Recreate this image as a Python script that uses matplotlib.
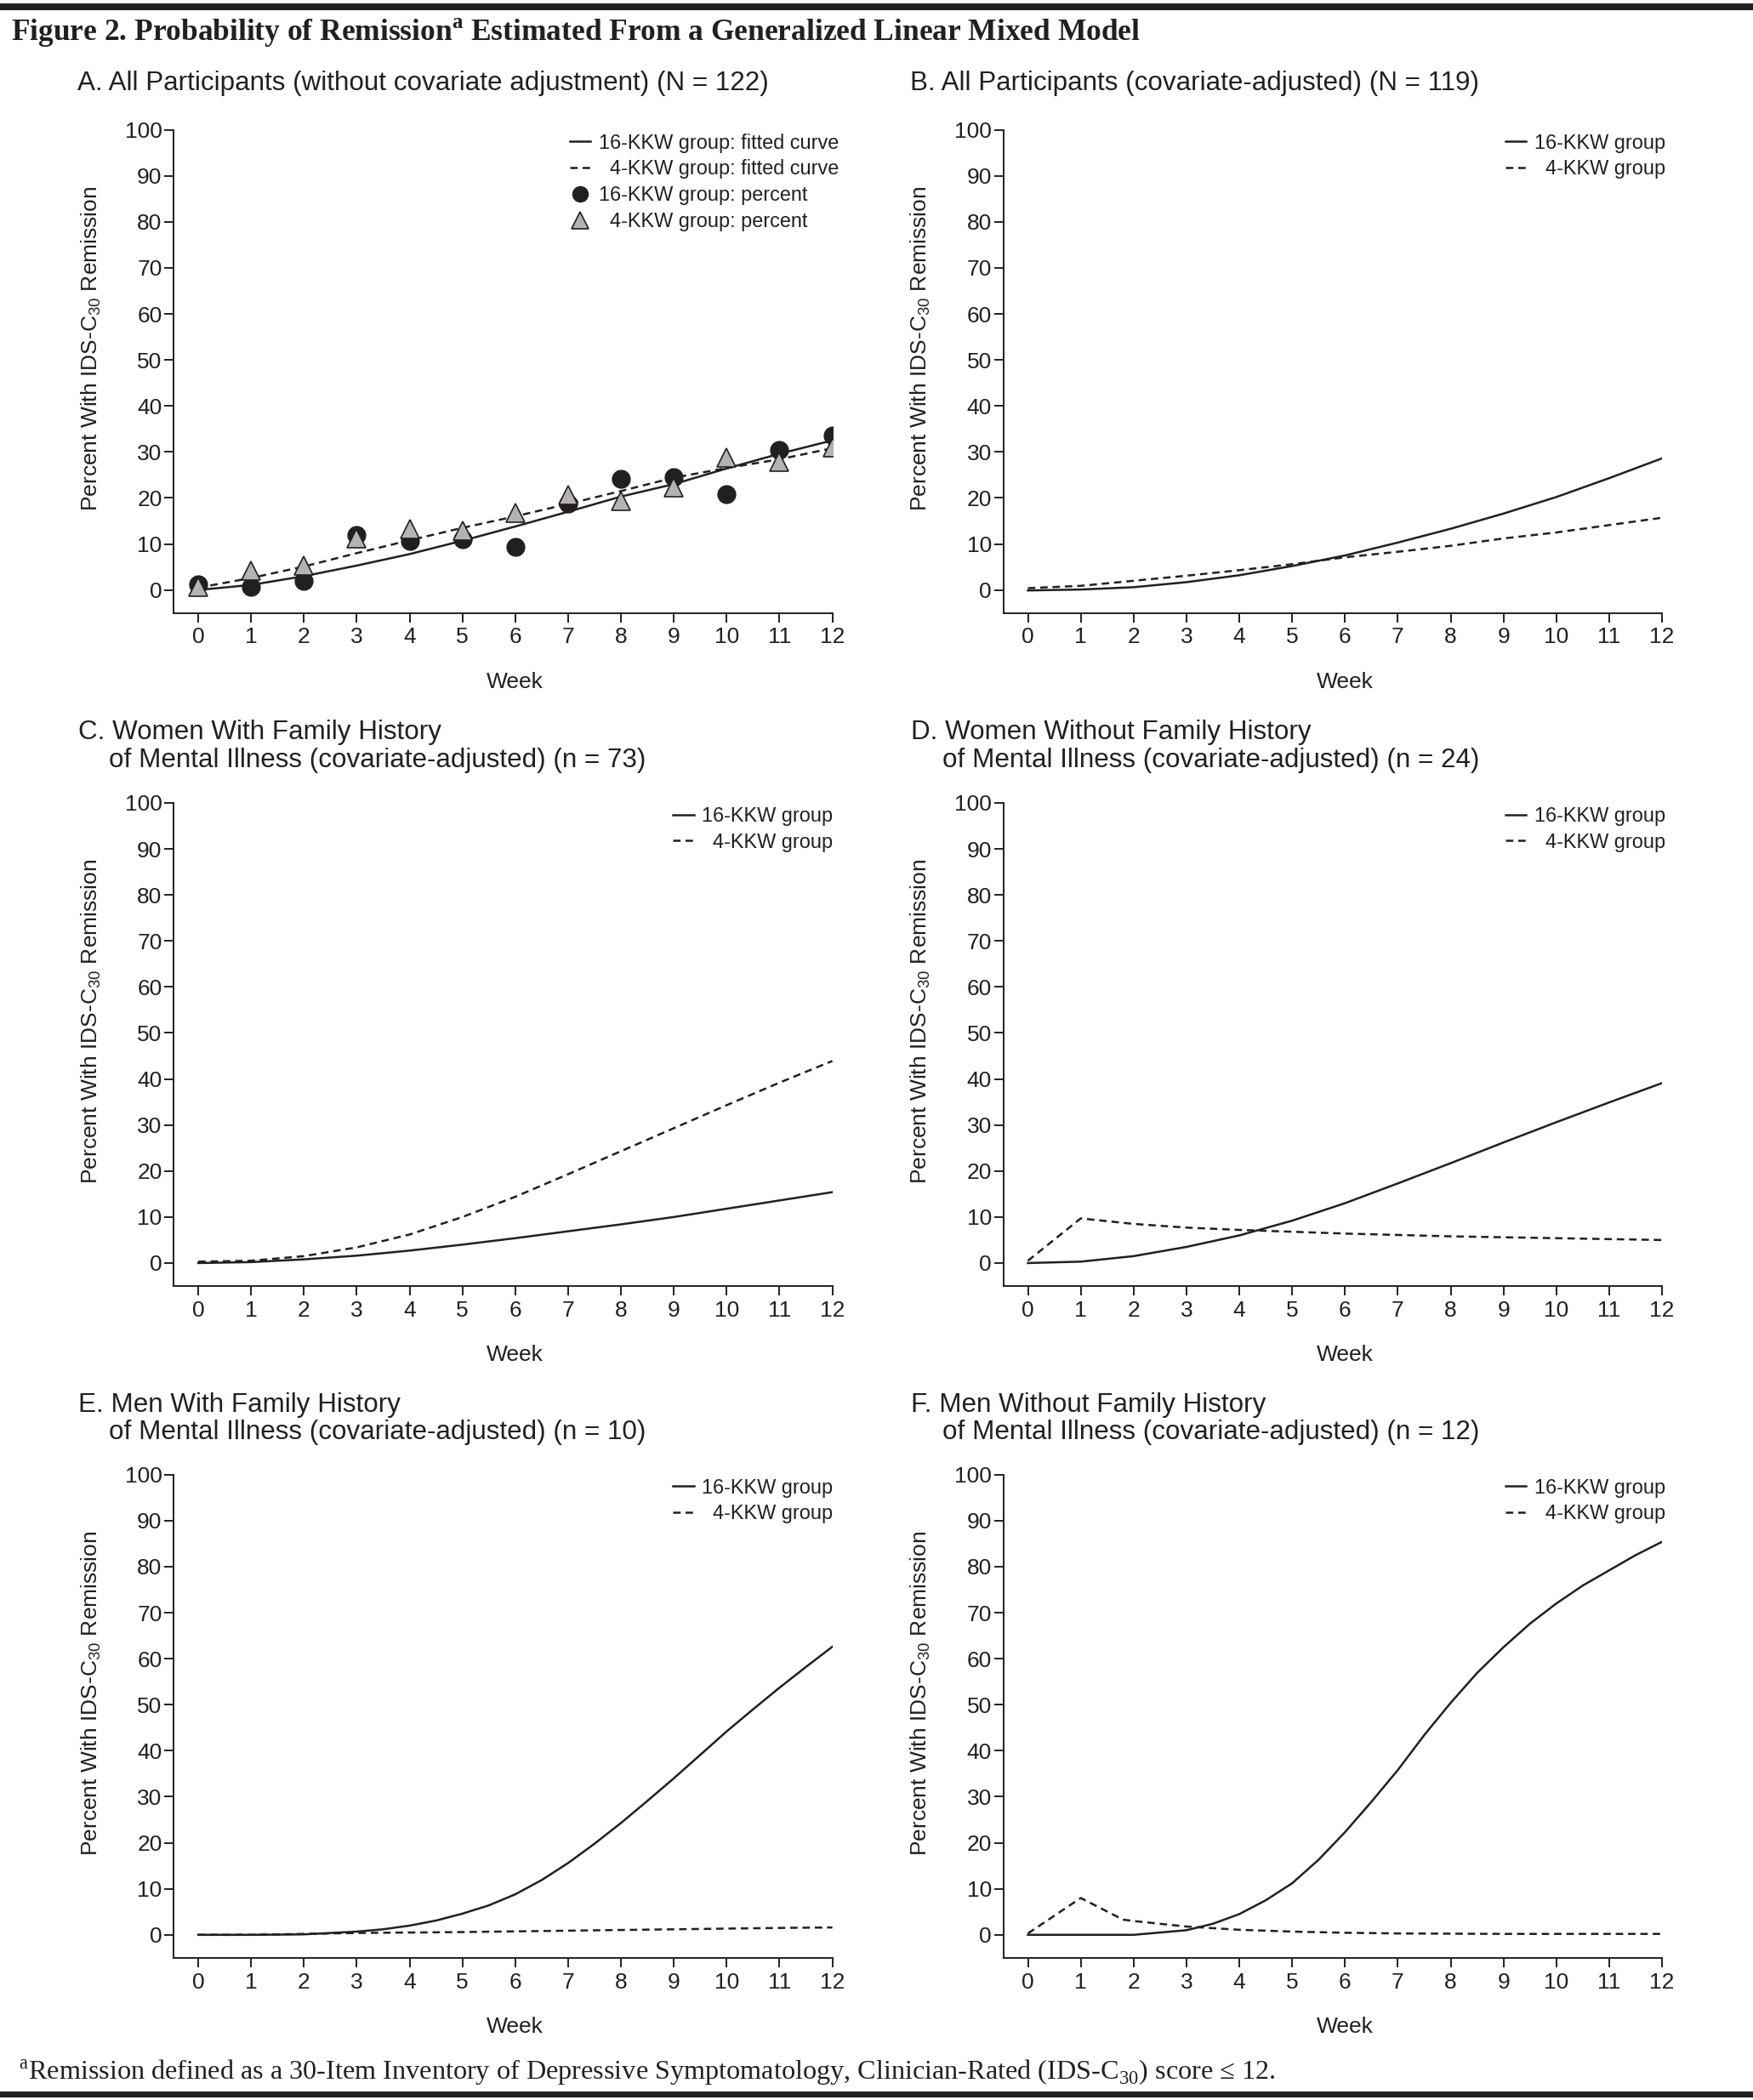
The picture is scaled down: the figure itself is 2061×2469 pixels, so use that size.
import matplotlib
matplotlib.use('Agg')
import matplotlib.pyplot as plt
from matplotlib.lines import Line2D
from matplotlib.patches import Rectangle

# ---------------- data ----------------
weeks = [0, 1, 2, 3, 4, 5, 6, 7, 8, 9, 10, 11, 12]
week_ticks = [0, 1, 2, 3, 4, 5, 6, 7, 8, 9, 10, 11, 12]
pct_ticks = [0, 10, 20, 30, 40, 50, 60, 70, 80, 90, 100]

# Panel A: observed percents and fitted curves
a_pct_16 = [1.3, 0.7, 1.9, 12.0, 10.6, 11.0, 9.3, 18.8, 24.2, 24.5, 20.9, 30.4, 33.6]
a_pct_4 = [0.7, 4.1, 5.3, 11.3, 13.3, 12.8, 16.7, 20.7, 19.4, 22.3, 28.8, 27.8, 30.9]
a_fit_16 = [0.0, 1.1, 3.0, 5.3, 7.8, 10.7, 13.8, 17.0, 20.3, 23.0, 26.4, 29.6, 32.5]
a_fit_4 = [0.5, 2.6, 5.1, 8.0, 10.8, 13.5, 16.0, 18.7, 21.5, 24.4, 26.5, 28.4, 30.8]

# Panel B
b_16 = [-0.1, 0.1, 0.6, 1.7, 3.2, 5.2, 7.5, 10.3, 13.3, 16.6, 20.2, 24.3, 28.6]
b_4 = [0.4, 0.9, 2.0, 3.1, 4.3, 5.6, 7.1, 8.3, 9.6, 11.2, 12.5, 14.1, 15.7]

# Panel C
c_16 = [0.0, 0.2, 0.8, 1.6, 2.7, 4.0, 5.4, 6.9, 8.4, 10.0, 11.8, 13.6, 15.4]
c_4 = [0.3, 0.5, 1.5, 3.4, 6.2, 10.0, 14.4, 19.3, 24.3, 29.3, 34.3, 39.2, 43.9]

# Panel D
d_16 = [0.0, 0.3, 1.5, 3.5, 6.0, 9.2, 13.0, 17.3, 21.7, 26.2, 30.6, 34.9, 39.1]
d_4 = [0.5, 9.7, 8.5, 7.7, 7.2, 6.8, 6.4, 6.1, 5.8, 5.6, 5.4, 5.2, 5.0]

# Panels E and F (16-KKW read at half-week steps)
half_weeks = [0, 1, 2, 3, 3.5, 4, 4.5, 5, 5.5, 6, 6.5, 7, 7.5, 8, 8.5, 9, 9.5,
              10, 10.5, 11, 11.5, 12]
e_16 = [0.0, 0.0, 0.1, 0.7, 1.2, 2.0, 3.1, 4.6, 6.4, 8.8, 11.9, 15.6, 19.8, 24.3,
        29.1, 34.0, 39.1, 44.2, 49.0, 53.7, 58.2, 62.6]
e_4 = [0.0, 0.0, 0.2, 0.4, 0.5, 0.6, 0.75, 0.9, 1.05, 1.2, 1.35, 1.5, 1.6]

f_16 = [0.0, 0.0, 0.0, 1.0, 2.4, 4.5, 7.5, 11.2, 16.3, 22.3, 28.9, 35.8, 43.4, 50.4,
        56.9, 62.5, 67.6, 72.0, 75.9, 79.2, 82.5, 85.4]
f_4_weeks = [0, 1, 1.8, 2, 3, 4, 5, 6, 7, 8, 9, 10, 11, 12]
f_4 = [0.3, 8.0, 3.3, 3.0, 1.8, 1.1, 0.7, 0.45, 0.3, 0.25, 0.2, 0.2, 0.2, 0.2]

# ---------------- text ----------------
fig_title = r'Figure 2. Probability of Remission$^{\mathregular{a}}$ Estimated From a Generalized Linear Mixed Model'
footnote = r'$^{\mathregular{a}}$Remission defined as a 30-Item Inventory of Depressive Symptomatology, Clinician-Rated (IDS-C$_{\mathregular{30}}$) score ≤ 12.'
ylabel = r'Percent With IDS-C$_{\mathregular{30}}$ Remission'
xlabel = 'Week'
panel_titles = {
    'A': ['A. All Participants (without covariate adjustment) (N = 122)'],
    'B': ['B. All Participants (covariate-adjusted) (N = 119)'],
    'C': ['C. Women With Family History', 'of Mental Illness (covariate-adjusted) (n = 73)'],
    'D': ['D. Women Without Family History', 'of Mental Illness (covariate-adjusted) (n = 24)'],
    'E': ['E. Men With Family History', 'of Mental Illness (covariate-adjusted) (n = 10)'],
    'F': ['F. Men Without Family History', 'of Mental Illness (covariate-adjusted) (n = 12)'],
}
leg_16 = '16-KKW group'
leg_4 = '  4-KKW group'

# ---------------- style ----------------
INK = '#231f20'
SANS = ['Liberation Sans Narrow', 'Liberation Sans', 'DejaVu Sans']
WIDE = ['Liberation Sans', 'DejaVu Sans']
SERIF = ['Liberation Serif', 'DejaVu Serif']
plt.rcParams['font.family'] = SANS
LW = 1.8
DASH = (3.5, 2.3)
LEG_FS = 16.9
LEG_KW = dict(frameon=False, fontsize=LEG_FS, handlelength=1.05,
              handletextpad=0.4, labelspacing=0.33, borderpad=0,
              borderaxespad=0, labelcolor=INK)

fig = plt.figure(figsize=(20.61, 24.69), dpi=100)

col_left = [0.0992, 0.5725]
row_bottom = [0.7081, 0.3876, 0.0677]
AW, AH = 0.3756, 0.2301


def style(ax):
    ax.set_xlim(-0.46, 12)
    ax.set_ylim(-5, 100)
    for s in ['top', 'right']:
        ax.spines[s].set_visible(False)
    for s in ['left', 'bottom']:
        ax.spines[s].set_linewidth(1.4)
        ax.spines[s].set_color(INK)
    ax.set_xticks(week_ticks)
    ax.set_yticks(pct_ticks)
    ax.tick_params(axis='both', length=8, width=1.4, color=INK,
                   labelsize=19, labelcolor=INK)
    ax.tick_params(axis='y', pad=2)
    ax.tick_params(axis='x', pad=4)
    ax.set_ylabel(ylabel, fontsize=19, color=INK, family=WIDE)
    ax.yaxis.set_label_coords(-0.108, 0.547)
    ax.set_xlabel(xlabel, fontsize=19, color=INK)
    ax.xaxis.set_label_coords((6 + 0.46) / 12.46, -0.143)
    ax.xaxis.label.set_va('center')


def line_legend(ax, x_anchor, y_anchor):
    h = [Line2D([], [], color=INK, lw=LW),
         Line2D([], [], color=INK, lw=LW, dashes=DASH)]
    ax.legend(h, [leg_16, leg_4], loc='upper right',
              bbox_to_anchor=(x_anchor, y_anchor), **LEG_KW)


axes = {}
for key, (r, c) in zip('ABCDEF', [(0, 0), (0, 1), (1, 0), (1, 1), (2, 0), (2, 1)]):
    ax = fig.add_axes([col_left[c], row_bottom[r], AW, AH])
    style(ax)
    axes[key] = ax

# Panel A
ax = axes['A']
ax.plot(weeks, a_fit_16, color=INK, lw=LW)
ax.plot(weeks, a_fit_4, color=INK, lw=LW, dashes=DASH)
ax.plot(weeks, a_pct_16, ls='none', marker='o', ms=15, mfc=INK, mec=INK)
ax.plot(weeks, a_pct_4, ls='none', marker='^', ms=16.5, mfc='#b3b3b3', mec=INK, mew=1.2)
hA = [Line2D([], [], color=INK, lw=LW),
      Line2D([], [], color=INK, lw=LW, dashes=DASH),
      Line2D([], [], ls='none', marker='o', ms=13, mfc=INK, mec=INK),
      Line2D([], [], ls='none', marker='^', ms=14, mfc='#b3b3b3', mec=INK, mew=1.2)]
ax.legend(hA, ['16-KKW group: fitted curve', '  4-KKW group: fitted curve',
               '16-KKW group: percent', '  4-KKW group: percent'],
          loc='upper right', bbox_to_anchor=(1.0097, 0.993), **LEG_KW)

# Panel B
ax = axes['B']
ax.plot(weeks, b_16, color=INK, lw=LW)
ax.plot(weeks, b_4, color=INK, lw=LW, dashes=DASH)
line_legend(ax, 1.005, 0.993)

# Panel C
ax = axes['C']
ax.plot(weeks, c_16, color=INK, lw=LW)
ax.plot(weeks, c_4, color=INK, lw=LW, dashes=DASH)
line_legend(ax, 1.001, 0.993)

# Panel D
ax = axes['D']
ax.plot(weeks, d_16, color=INK, lw=LW)
ax.plot(weeks, d_4, color=INK, lw=LW, dashes=DASH)
line_legend(ax, 1.005, 0.993)

# Panel E
ax = axes['E']
ax.plot(half_weeks, e_16, color=INK, lw=LW)
ax.plot(weeks, e_4, color=INK, lw=LW, dashes=DASH)
line_legend(ax, 1.001, 0.993)

# Panel F
ax = axes['F']
ax.plot(half_weeks, f_16, color=INK, lw=LW)
ax.plot(f_4_weeks, f_4, color=INK, lw=LW, dashes=DASH)
line_legend(ax, 1.005, 0.993)

# Panel titles
title_pos = {
    'A': [(0.0442, 0.9605)],
    'B': [(0.5192, 0.9605)],
    'C': [(0.0446, 0.6513), (0.0623, 0.6379)],
    'D': [(0.5197, 0.6513), (0.5376, 0.6379)],
    'E': [(0.0446, 0.3309), (0.0623, 0.3179)],
    'F': [(0.5197, 0.3309), (0.5376, 0.3179)],
}
for key in 'ABCDEF':
    for txt, (x, y) in zip(panel_titles[key], title_pos[key]):
        fig.text(x, y, txt, fontsize=22.6, color=INK, ha='left', va='center')

# Figure title, footnote, rules
fig.text(0.0061, 0.9842, fig_title, fontsize=25.5, fontweight='bold', family=SERIF,
         color=INK, ha='left', va='center')
fig.text(0.0107, 0.0126, footnote, fontsize=23.2, family=SERIF, color=INK,
         ha='left', va='center')
fig.add_artist(Rectangle((0, 0.99514), 1, 0.00324, transform=fig.transFigure,
                         facecolor=INK, edgecolor='none'))
fig.add_artist(Rectangle((0, 0.00122), 1, 0.00284, transform=fig.transFigure,
                         facecolor=INK, edgecolor='none'))

fig.savefig('out.png', dpi=100)
